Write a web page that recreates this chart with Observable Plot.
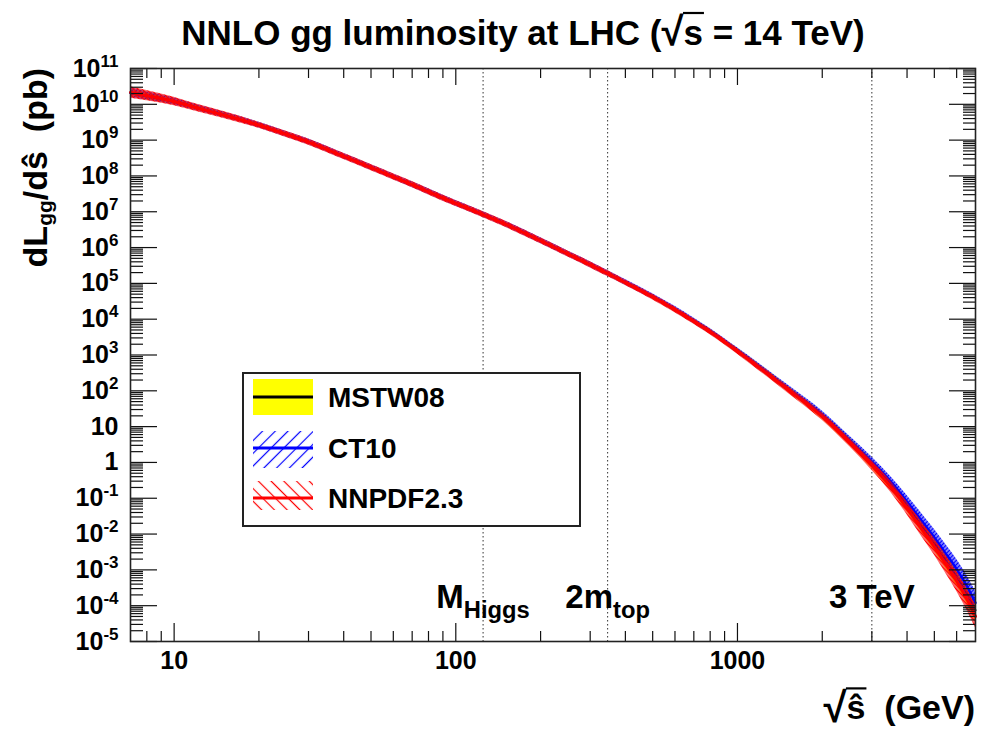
<!DOCTYPE html>
<html>
<head>
<meta charset="utf-8">
<script src="https://cdn.jsdelivr.net/npm/d3@7"></script>
<script src="https://cdn.jsdelivr.net/npm/@observablehq/plot@0.6"></script>
<style>
  body { margin: 0; background: #fff; }
  #chart { width: 981px; height: 731px; }
</style>
</head>
<body>
<div id="chart"></div>
<script>
// ---------------- data ----------------
const sqrtS = [7, 8, 10, 12, 15, 20, 25, 30, 40, 50, 60, 70, 80, 100, 125, 150, 200, 250, 300, 350, 400, 500, 600, 700, 800, 1000, 1200, 1500, 2000, 2500, 3000, 3500, 4000, 4500, 5000, 5500, 6000, 6500, 7000];
const mstw08 = [2.05e10, 1.7e10, 1.18e10, 8.0e9, 5.0e9, 2.6e9, 1.45e9, 8.8e8, 3.5e8, 1.7e8, 9.4e7, 5.7e7, 3.6e7, 1.7e7, 8.3e6, 4.5e6, 1.55e6, 6.6e5, 3.3e5, 1.8e5, 1.05e5, 4.2e4, 1.85e4, 8.8e3, 4.5e3, 1.3e3, 4.5e2, 1.18e2, 2.0e1, 3.9, 0.92, 0.24, 0.062, 0.017, 5.5e-3, 1.8e-3, 6.5e-4, 2.3e-4, 7.5e-5];
const ct10 = [2.1e10, 1.72e10, 1.2e10, 8.1e9, 5.05e9, 2.62e9, 1.46e9, 8.9e8, 3.55e8, 1.72e8, 9.5e7, 5.75e7, 3.65e7, 1.72e7, 8.4e6, 4.55e6, 1.57e6, 6.7e5, 3.35e5, 1.83e5, 1.07e5, 4.3e4, 1.9e4, 9.0e3, 4.6e3, 1.33e3, 4.6e2, 1.22e2, 2.15e1, 4.2, 1.05, 0.29, 0.08, 0.024, 8.0e-3, 2.8e-3, 1.05e-3, 3.7e-4, 1.2e-4];
const nnpdf23 = [2.15e10, 1.75e10, 1.2e10, 8.0e9, 5.0e9, 2.6e9, 1.45e9, 8.8e8, 3.5e8, 1.7e8, 9.4e7, 5.7e7, 3.6e7, 1.7e7, 8.3e6, 4.5e6, 1.55e6, 6.6e5, 3.3e5, 1.8e5, 1.04e5, 4.15e4, 1.82e4, 8.6e3, 4.4e3, 1.26e3, 4.3e2, 1.12e2, 1.9e1, 3.6, 0.82, 0.21, 0.052, 0.014, 4.4e-3, 1.4e-3, 4.8e-4, 1.6e-4, 5.0e-5];
// fractional uncertainty (band half-width)
const mstwErr  = [0.25, 0.22, 0.18, 0.15, 0.14, 0.13, 0.12, 0.12, 0.12, 0.12, 0.12, 0.12, 0.12, 0.12, 0.12, 0.12, 0.12, 0.12, 0.12, 0.13, 0.13, 0.14, 0.15, 0.16, 0.17, 0.18, 0.2, 0.22, 0.25, 0.3, 0.35, 0.4, 0.45, 0.5, 0.6, 0.7, 0.8, 0.9, 1.0];
const ct10Err  = [0.35, 0.3, 0.25, 0.22, 0.2, 0.2, 0.2, 0.2, 0.2, 0.2, 0.2, 0.2, 0.2, 0.2, 0.2, 0.2, 0.2, 0.2, 0.2, 0.2, 0.2, 0.2, 0.2, 0.2, 0.2, 0.2, 0.22, 0.24, 0.27, 0.3, 0.35, 0.4, 0.5, 0.6, 0.7, 0.8, 0.9, 1.0, 1.1];
const nnpdfErr = [0.45, 0.4, 0.32, 0.27, 0.25, 0.22, 0.22, 0.22, 0.22, 0.22, 0.22, 0.22, 0.22, 0.22, 0.22, 0.22, 0.22, 0.22, 0.22, 0.22, 0.2, 0.2, 0.2, 0.2, 0.2, 0.2, 0.22, 0.24, 0.27, 0.3, 0.35, 0.42, 0.5, 0.6, 0.7, 0.8, 0.9, 1.0, 1.1];

const seriesNames = ["MSTW08", "CT10", "NNPDF2.3"];
const markerX = [125, 346, 3000];
const markerLabels = ["M_{Higgs}", "2m_{top}", "3 TeV"];

const xMajorTicks = [10, 100, 1000];
const xTickLabels = ["10", "100", "1000"];
const xMinorTicks = [8, 9, 20, 30, 40, 50, 60, 70, 80, 90, 200, 300, 400, 500, 600, 700, 800, 900, 2000, 3000, 4000, 5000, 6000];
const yExponents = [-5, -4, -3, -2, -1, 0, 1, 2, 3, 4, 5, 6, 7, 8, 9, 10, 11];
const yTickLabels = ["10^{-5}", "10^{-4}", "10^{-3}", "10^{-2}", "10^{-1}", "1", "10", "10^{2}", "10^{3}", "10^{4}", "10^{5}", "10^{6}", "10^{7}", "10^{8}", "10^{9}", "10^{10}", "10^{11}"];
const minorMultipliers = [2, 3, 4, 5, 6, 7, 8, 9];

// ---------------- tables built from the arrays ----------------
function table(central, err) {
  return sqrtS.map((x, i) => ({x, y: central[i], lo: central[i] / (1 + err[i]), hi: central[i] * (1 + err[i])}));
}
const dMSTW = table(mstw08, mstwErr);
const dCT = table(ct10, ct10Err);
const dNN = table(nnpdf23, nnpdfErr);
const yMajor = yExponents.map(k => Math.pow(10, k));
const yMinor = yExponents.slice(0, -1).flatMap(k => minorMultipliers.map(m => m * Math.pow(10, k)));
const markers = markerX.map((x, i) => ({x, label: markerLabels[i]}));

const FONT = "'Liberation Sans', Arial, Helvetica, sans-serif";
const tickStyle = {stroke: "#111", strokeWidth: 1.2, label: null, tickFormat: () => ""};

const chart = Plot.plot({
  width: 981, height: 731,
  marginLeft: 130, marginRight: 6, marginTop: 68, marginBottom: 90,
  style: {fontFamily: FONT, fontWeight: "bold", background: "#fff", color: "#000"},
  x: {type: "log", domain: [7, 7000]},
  y: {type: "log", domain: [1e-5, 1e11]},
  marks: [
    Plot.ruleX(markerX, {stroke: "#333", strokeWidth: 1, strokeDasharray: "1.5,2.5"}),
    // MSTW08
    Plot.areaY(dMSTW, {x: "x", y1: "lo", y2: "hi", fill: "#ffff00", curve: "monotone-x"}),
    Plot.line(dMSTW, {x: "x", y: "y", stroke: "#000", strokeWidth: 2, curve: "monotone-x"}),
    // CT10
    Plot.areaY(dCT, {x: "x", y1: "lo", y2: "hi", fill: "url(#hatchBlueDense)", curve: "monotone-x"}),
    Plot.line(dCT, {x: "x", y: "y", stroke: "#0000ff", strokeWidth: 2.5, curve: "monotone-x"}),
    // NNPDF2.3
    Plot.areaY(dNN, {x: "x", y1: "lo", y2: "hi", fill: "url(#hatchRedDense)", curve: "monotone-x"}),
    Plot.line(dNN, {x: "x", y: "y", stroke: "#ff0000", strokeWidth: 3, curve: "monotone-x"}),
    // annotations
    Plot.text(markers, {x: "x", text: "label", frameAnchor: "bottom", lineAnchor: "bottom", dy: -34, fontSize: 33, fontWeight: "bold", fill: "#000"}),
    // ticks (inward, all four sides)
    Plot.axisX(xMajorTicks, {anchor: "bottom", tickSize: -18, ...tickStyle}),
    Plot.axisX(xMinorTicks, {anchor: "bottom", tickSize: -10, ...tickStyle}),
    Plot.axisX(xMajorTicks, {anchor: "top", tickSize: -16, ...tickStyle}),
    Plot.axisX(xMinorTicks, {anchor: "top", tickSize: -9, ...tickStyle}),
    Plot.axisY(yMajor, {anchor: "left", tickSize: -27, ...tickStyle}),
    Plot.axisY(yMinor, {anchor: "left", tickSize: -13, ...tickStyle}),
    Plot.axisY(yMajor, {anchor: "right", tickSize: -27, ...tickStyle}),
    Plot.axisY(yMinor, {anchor: "right", tickSize: -13, ...tickStyle}),
    // tick labels
    Plot.axisX(xMajorTicks, {anchor: "bottom", tickSize: 0, tickPadding: 10, label: null, fontSize: 25, fontWeight: "bold", tickFormat: d => xTickLabels[xMajorTicks.indexOf(d)]}),
    Plot.axisY(yMajor, {anchor: "left", tickSize: 0, tickPadding: 12, label: null, fontSize: 25, fontWeight: "bold", tickFormat: d => yTickLabels[yMajor.indexOf(d)]}),
    Plot.frame({stroke: "#222", strokeWidth: 1.6})
  ]
});

document.getElementById("chart").appendChild(chart);
const svg = d3.select(chart);

// hatch patterns
const defs = svg.insert("defs", ":first-child");
function hatch(id, color, size, width, angle) {
  const p = defs.append("pattern").attr("id", id).attr("patternUnits", "userSpaceOnUse")
    .attr("width", size).attr("height", size).attr("patternTransform", `rotate(${angle})`);
  p.append("line").attr("x1", size / 2).attr("y1", 0).attr("x2", size / 2).attr("y2", size)
    .attr("stroke", color).attr("stroke-width", width);
}
hatch("hatchBlueDense", "#0000ff", 3, 2, 45);
hatch("hatchRedDense", "#ff0000", 3, 2.2, -45);
hatch("hatchBlue", "#0000ff", 9, 1.2, 45);
hatch("hatchRed", "#ff0000", 9, 1.2, -45);

// rich text: ^{..} superscript, _{..} subscript
function rich(node, fs, scale, supShift, subShift) {
  const s = node.textContent;
  if (!/[\^_]\{/.test(s)) return;
  const parts = [...s.matchAll(/([\^_])\{([^}]*)\}|([^\^_]+)/g)];
  node.textContent = "";
  let shift = 0;
  for (const m of parts) {
    const ts = document.createElementNS("http://www.w3.org/2000/svg", "tspan");
    if (m[1]) {
      const target = m[1] === "^" ? supShift : subShift;
      ts.setAttribute("dy", target - shift); shift = target;
      ts.setAttribute("font-size", fs * scale);
      ts.textContent = m[2];
    } else {
      ts.setAttribute("dy", -shift); shift = 0;
      ts.textContent = m[3];
    }
    node.appendChild(ts);
  }
}
chart.querySelectorAll('g[aria-label="y-axis tick label"] text').forEach(t => rich(t, 25, 0.68, -10, 0));
chart.querySelectorAll('g[aria-label="text"] text').forEach(t => rich(t, 33, 0.72, 0, 10));

// title
const title = svg.append("text").attr("x", 523).attr("y", 45).attr("text-anchor", "middle")
  .attr("font-size", 35).attr("font-weight", "bold").attr("font-family", FONT);
title.append("tspan").text("NNLO gg luminosity at LHC (");
const tRad = title.append("tspan").attr("font-size", 40).text("√");
const tS = title.append("tspan").text("s");
title.append("tspan").text(" = 14 TeV)");

// y-axis title
const yt = svg.append("text").attr("transform", "translate(47,68) rotate(-90)").attr("text-anchor", "end")
  .attr("font-size", 34).attr("font-weight", "bold").attr("font-family", FONT);
yt.append("tspan").text("dL");
yt.append("tspan").attr("dy", 5).attr("font-size", 21).text("gg");
yt.append("tspan").attr("dy", -5).text("/dŝ\u00a0\u00a0(pb)");

// x-axis title
const xt = svg.append("text").attr("x", 975).attr("y", 719).attr("text-anchor", "end")
  .attr("font-size", 34).attr("font-weight", "bold").attr("font-family", FONT);
const xRad = xt.append("tspan").attr("font-size", 42).attr("dy", 3).text("√");
const xS = xt.append("tspan").attr("dy", -3).text("ŝ");
xt.append("tspan").text("\u00a0\u00a0(GeV)");

function overbar(rad, body, yTop) {
  const r = rad.node().getBBox(), b = body.node().getBBox();
  svg.append("line").attr("x1", r.x + r.width - 1.5).attr("x2", b.x + b.width + 1)
    .attr("y1", yTop).attr("y2", yTop).attr("stroke", "#000").attr("stroke-width", 2.2);
}
overbar(tRad, tS, 45 - 40 * 0.80);
overbar(xRad, xS, 722 - 42 * 0.80);

// legend
const lg = svg.append("g").attr("font-family", FONT).attr("font-weight", "bold");
lg.append("rect").attr("x", 243).attr("y", 373).attr("width", 337).attr("height", 153)
  .attr("fill", "#fff").attr("stroke", "#222").attr("stroke-width", 2);
const rows = [
  {name: seriesNames[0], cy: 397, fill: "#ffff00", line: "#000", lw: 3, top: 379, bot: 415},
  {name: seriesNames[1], cy: 448, fill: "url(#hatchBlue)", line: "#0000ff", lw: 3, top: 431, bot: 468},
  {name: seriesNames[2], cy: 498, fill: "url(#hatchRed)", line: "#ff0000", lw: 3, top: 481, bot: 510}
];
for (const r of rows) {
  lg.append("rect").attr("x", 253).attr("y", r.top).attr("width", 60).attr("height", r.bot - r.top).attr("fill", r.fill);
  lg.append("line").attr("x1", 253).attr("x2", 313).attr("y1", r.cy).attr("y2", r.cy).attr("stroke", r.line).attr("stroke-width", r.lw);
  lg.append("text").attr("x", 328).attr("y", r.cy).attr("dy", "0.36em").attr("text-anchor", "start")
    .attr("font-size", 28).text(r.name);
}
</script>
</body>
</html>
